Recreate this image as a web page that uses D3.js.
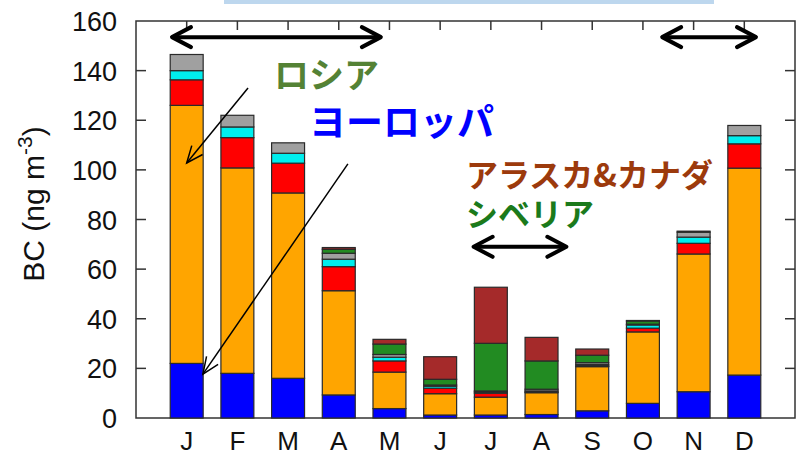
<meta charset="utf-8">
<style>
    body { margin: 0; background: #ffffff; }
    text { font-family: "Liberation Sans", Arial, sans-serif; }
    .jp { font-family: "Noto Sans CJK JP", sans-serif; font-weight: bold; }
</style>
<body>
<script src="https://d3js.org/d3.v7.min.js"></script>
<script>

    // monthly BC contributions, bottom to top of each bar
    const months = ["J", "F", "M", "A", "M", "J", "J", "A", "S", "O", "N", "D"];
    const europe = [22, 18, 16, 9.3, 3.8, 1.2, 1.2, 1.4, 2.9, 5.9, 10.6, 17.3];
    const russia = [104, 82.8, 74.7, 42, 14.7, 8.6, 7.2, 8.8, 17.8, 28.8, 55.5, 83.4];
    const redPart = [10.3, 12.2, 12, 9.7, 4.5, 2.2, 1.6, 0.3, 0.3, 1.5, 4.3, 9.8];
    const cyanPart = [3.7, 4.3, 4, 3, 1.5, 0.8, 0.5, 0.4, 0.5, 1.3, 2.5, 3.3];
    const grayPart = [6.5, 4.7, 4.2, 2.4, 1.1, 0.5, 0.4, 0.7, 0.8, 0.3, 2.0, 4.1];
    const siberia = [0, 0, 0, 1.6, 4.2, 2.3, 19.2, 11.4, 3.0, 1.3, 0.4, 0];
    const alaskaCanada = [0, 0, 0, 0.7, 1.9, 9.1, 22.6, 9.5, 2.5, 0.2, 0, 0];
    const yTicks = [0, 20, 40, 60, 80, 100, 120, 140, 160];

    const keys = ["europe", "russia", "red", "cyan", "gray", "siberia", "alaska"];
    const colors = ["#0000ff", "#ffa500", "#ff0000", "#00eeee", "#a0a0a0", "#228b22", "#a52a2a"];

    let rows = months.map(function (m, i) {
        return {
            i: i + 1,
            europe: europe[i], russia: russia[i], red: redPart[i], cyan: cyanPart[i],
            gray: grayPart[i], siberia: siberia[i], alaska: alaskaCanada[i]
        };
    });

    let width = 796, height = 462;
    let svg = d3.select("body").append("svg")
        .attr("width", width)
        .attr("height", height);

    let x = d3.scaleLinear().domain([0, 13]).range([136, 795]);
    let y = d3.scaleLinear().domain([0, 160]).range([418, 21]);
    let barW = (x(1) - x(0)) * 0.65;

    // pale band at the very top
    svg.append("rect")
        .attr("x", 224).attr("y", 0).attr("width", 490).attr("height", 4)
        .attr("fill", "#bdd7ee");

    // frame and ticks
    let frame = svg.append("g").attr("stroke", "#333").attr("stroke-width", 1.5);
    frame.append("rect")
        .attr("x", x(0)).attr("y", y(160))
        .attr("width", x(13) - x(0)).attr("height", y(0) - y(160))
        .attr("fill", "none");
    yTicks.forEach(function (t) {
        if (t === 0 || t === 160) return;
        frame.append("line").attr("x1", x(0)).attr("x2", x(0) + 10).attr("y1", y(t)).attr("y2", y(t));
        frame.append("line").attr("x1", x(13)).attr("x2", x(13) - 10).attr("y1", y(t)).attr("y2", y(t));
    });
    months.forEach(function (m, i) {
        frame.append("line").attr("x1", x(i + 1)).attr("x2", x(i + 1)).attr("y1", y(160)).attr("y2", y(160) + 9);
        frame.append("line").attr("x1", x(i + 1)).attr("x2", x(i + 1)).attr("y1", y(0)).attr("y2", y(0) - 9);
    });

    // y tick labels
    svg.append("g").selectAll("text")
        .data(yTicks)
        .join("text")
        .attr("x", x(0) - 19)
        .attr("y", function (d) { return y(d) + 10; })
        .attr("text-anchor", "end")
        .attr("font-size", 27)
        .attr("fill", "#111")
        .text(function (d) { return d; });

    // month labels
    svg.append("g").selectAll("text")
        .data(months)
        .join("text")
        .attr("x", function (d, i) { return x(i + 1); })
        .attr("y", 450)
        .attr("text-anchor", "middle")
        .attr("font-size", 26)
        .attr("fill", "#111")
        .text(function (d) { return d; });

    // y axis title
    let yt = svg.append("text")
        .attr("transform", "translate(44,204) rotate(-90)")
        .attr("text-anchor", "middle")
        .attr("font-size", 30)
        .attr("fill", "#111");
    yt.append("tspan").text("BC (ng m");
    yt.append("tspan").attr("dy", -12).attr("font-size", 21).text("-3");
    yt.append("tspan").attr("dy", 12).text(")");

    // stacked bars
    let series = d3.stack().keys(keys)(rows);
    svg.append("g").selectAll("g")
        .data(series)
        .join("g")
        .attr("fill", function (d, k) { return colors[k]; })
        .selectAll("rect")
        .data(function (d) { return d; })
        .join("rect")
        .filter(function (d) { return d[1] - d[0] > 0; })
        .attr("x", function (d) { return x(d.data.i) - barW / 2; })
        .attr("y", function (d) { return y(d[1]); })
        .attr("width", barW)
        .attr("height", function (d) { return y(d[0]) - y(d[1]); })
        .attr("stroke", "#2a2a2a")
        .attr("stroke-width", 1.2);

    // thick double arrows (month units, BC units)
    const spans = [[0.71, 4.83, 153.5], [10.38, 12.23, 153.5], [6.66, 8.49, 69]];
    spans.forEach(function (s) {
        let x1 = x(s[0]), x2 = x(s[1]), yy = y(s[2]);
        let g = svg.append("g").attr("stroke", "#000").attr("stroke-width", 4)
            .attr("fill", "none").attr("stroke-linecap", "round").attr("stroke-linejoin", "round");
        g.append("line").attr("x1", x1 + 2).attr("x2", x2 - 2).attr("y1", yy).attr("y2", yy);
        g.append("polyline").attr("points", [[x1 + 19, yy - 10], [x1, yy], [x1 + 19, yy + 10]].join(" "));
        g.append("polyline").attr("points", [[x2 - 19, yy - 10], [x2, yy], [x2 - 19, yy + 10]].join(" "));
    });

    // thin pointer arrows
    const pointers = [[2.21, 133, 1.0, 102.8], [4.18, 102.4, 1.32, 17.7]];
    pointers.forEach(function (p) {
        let x1 = x(p[0]), y1 = y(p[1]), x2 = x(p[2]), y2 = y(p[3]);
        let a = Math.atan2(y2 - y1, x2 - x1), L = 18, w = 0.4;
        let g = svg.append("g").attr("stroke", "#000").attr("stroke-width", 1.5).attr("fill", "none");
        g.append("line").attr("x1", x1).attr("y1", y1).attr("x2", x2).attr("y2", y2);
        g.append("polyline").attr("points", [
            [x2 - L * Math.cos(a - w), y2 - L * Math.sin(a - w)],
            [x2, y2],
            [x2 - L * Math.cos(a + w), y2 - L * Math.sin(a + w)]
        ].join(" "));
    });

    // region labels
    const labels = [
        ["ロシア", 274, 88, 35, "#548235"],
        ["ヨーロッパ", 309, 136, 37, "#0000ff"],
        ["アラスカ&カナダ", 466, 187, 32, "#9c3a0c"],
        ["シベリア", 466, 226, 32, "#1b7a1b"]
    ];
    svg.append("g").selectAll("text")
        .data(labels)
        .join("text")
        .attr("class", "jp")
        .attr("x", function (d) { return d[1]; })
        .attr("y", function (d) { return d[2]; })
        .attr("font-size", function (d) { return d[3]; })
        .attr("fill", function (d) { return d[4]; })
        .text(function (d) { return d[0]; });

</script>
</body>
